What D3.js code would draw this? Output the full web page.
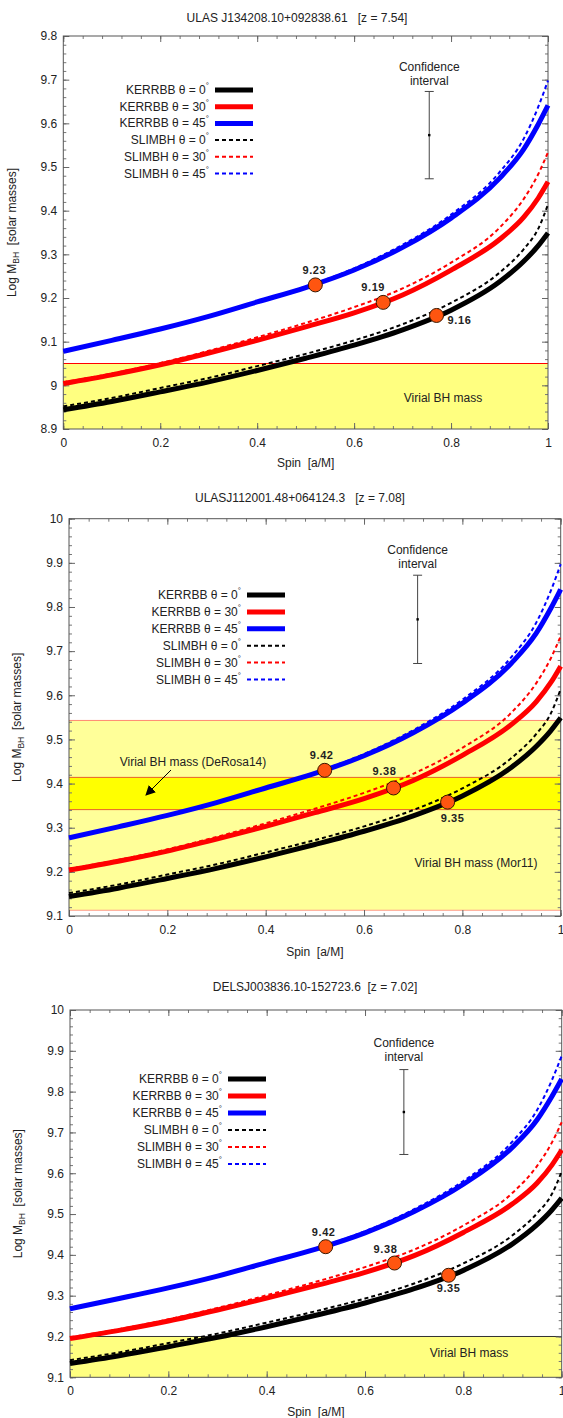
<!DOCTYPE html>
<html>
<head>
<meta charset="utf-8">
<script src="https://cdn.jsdelivr.net/npm/d3@7"></script>
<style>
  body { margin: 0; background: #fff; }
  text { font-family: "Liberation Sans", Arial, sans-serif; fill: #222; }
</style>
</head>
<body>
<div id="chart"></div>
<script>
// spin grid shared by every curve
var spins = [0, 0.1, 0.2, 0.3, 0.4, 0.5, 0.6, 0.7, 0.8, 0.9, 0.95, 0.98, 1];

var seriesNames = ['KERRBB \u03b8 = 0', 'KERRBB \u03b8 = 30', 'KERRBB \u03b8 = 45',
                   'SLIMBH \u03b8 = 0', 'SLIMBH \u03b8 = 30', 'SLIMBH \u03b8 = 45'];

// ULAS J134208.10+092838.61
var j1342_k0  = [8.944, 8.963, 8.985, 9.008, 9.034, 9.062, 9.092, 9.127, 9.172, 9.237, 9.284, 9.320, 9.349];
var j1342_k30 = [9.004, 9.024, 9.047, 9.074, 9.103, 9.134, 9.166, 9.207, 9.264, 9.334, 9.385, 9.429, 9.466];
var j1342_k45 = [9.078, 9.103, 9.129, 9.158, 9.191, 9.224, 9.264, 9.316, 9.383, 9.474, 9.541, 9.598, 9.641];
var j1342_s0  = [8.952, 8.971, 8.994, 9.017, 9.044, 9.072, 9.103, 9.140, 9.189, 9.258, 9.312, 9.359, 9.414];
var j1342_s30 = [9.007, 9.027, 9.051, 9.079, 9.110, 9.143, 9.179, 9.222, 9.281, 9.361, 9.427, 9.484, 9.534];
var j1342_s45 = [9.078, 9.103, 9.129, 9.159, 9.192, 9.226, 9.268, 9.322, 9.391, 9.488, 9.565, 9.638, 9.698];

// ULASJ112001.48+064124.3
var j1120_k0  = [9.144, 9.163, 9.185, 9.208, 9.234, 9.262, 9.292, 9.327, 9.372, 9.437, 9.484, 9.520, 9.549];
var j1120_k30 = [9.204, 9.224, 9.247, 9.274, 9.303, 9.334, 9.366, 9.407, 9.464, 9.534, 9.585, 9.629, 9.666];
var j1120_k45 = [9.277, 9.302, 9.328, 9.357, 9.390, 9.423, 9.463, 9.515, 9.582, 9.673, 9.740, 9.797, 9.840];
var j1120_s0  = [9.152, 9.171, 9.194, 9.217, 9.244, 9.272, 9.303, 9.340, 9.389, 9.458, 9.512, 9.559, 9.614];
var j1120_s30 = [9.207, 9.227, 9.251, 9.279, 9.310, 9.343, 9.379, 9.422, 9.481, 9.561, 9.627, 9.684, 9.734];
var j1120_s45 = [9.277, 9.302, 9.328, 9.358, 9.391, 9.425, 9.467, 9.521, 9.590, 9.687, 9.764, 9.837, 9.897];

// DELSJ003836.10-152723.6
var j0038_k0  = [9.134, 9.153, 9.175, 9.198, 9.224, 9.252, 9.282, 9.317, 9.362, 9.427, 9.474, 9.510, 9.539];
var j0038_k30 = [9.195, 9.215, 9.238, 9.265, 9.294, 9.325, 9.357, 9.398, 9.455, 9.525, 9.576, 9.620, 9.657];
var j0038_k45 = [9.268, 9.293, 9.319, 9.348, 9.381, 9.414, 9.454, 9.506, 9.573, 9.664, 9.731, 9.788, 9.831];
var j0038_s0  = [9.142, 9.161, 9.184, 9.207, 9.234, 9.262, 9.293, 9.330, 9.379, 9.448, 9.502, 9.549, 9.604];
var j0038_s30 = [9.198, 9.218, 9.242, 9.270, 9.301, 9.334, 9.370, 9.413, 9.472, 9.552, 9.618, 9.675, 9.725];
var j0038_s45 = [9.268, 9.293, 9.319, 9.349, 9.382, 9.416, 9.458, 9.512, 9.581, 9.678, 9.755, 9.828, 9.888];

// best-fit points (spin, mass) and their labels
var markerSpins = [0.52, 0.66, 0.77];
var j1342_marks = [9.23, 9.19, 9.16];
var j1342_markLabels = ['9.23', '9.19', '9.16'];
var j1120_marks = [9.43, 9.39, 9.358];
var j1120_markLabels = ['9.42', '9.38', '9.35'];
var j0038_marks = [9.42, 9.38, 9.35];
var j0038_markLabels = ['9.42', '9.38', '9.35'];

// virial mass bands [low, high]
var j1342_virial = [8.9, 9.05];
var j1120_mor11 = [9.113, 9.543];
var j1120_derosa = [9.341, 9.414];
var j0038_virial = [9.1, 9.2];

// confidence interval bars: [spin, centre, half width]
var j1342_conf = [0.755, 9.573, 0.1];
var j1120_conf = [0.709, 9.772, 0.1];
var j0038_conf = [0.679, 9.750, 0.104];

var colors = ['#000000', '#ff0000', '#0000ff', '#000000', '#ff0000', '#0000ff'];

var svg = d3.select('#chart').append('svg')
  .attr('width', 563).attr('height', 1418);

var line = d3.line().curve(d3.curveMonotoneX);

var panels = [
  { title: 'ULAS J134208.10+092838.61   [z = 7.54]', titleX: 297, titleY: 22,
    left: 63.3, right: 548, top: 36, bottom: 429, yDomain: [8.9, 9.8], yLabelX: 16,
    series: [j1342_k0, j1342_k30, j1342_k45, j1342_s0, j1342_s30, j1342_s45],
    marks: j1342_marks, markLabels: j1342_markLabels,
    labelOff: [[-1, -15], [-10, -15.5], [23, 5]],
    conf: j1342_conf, confTextY: [71, 85],
    legX: 215, legY: 90, legStep: 16.7,
    xLabelY: 467 },
  { title: 'ULASJ112001.48+064124.3   [z = 7.08]', titleX: 300, titleY: 502,
    left: 69, right: 560.7, top: 518.7, bottom: 916, yDomain: [9.1, 10], yLabelX: 21,
    series: [j1120_k0, j1120_k30, j1120_k45, j1120_s0, j1120_s30, j1120_s45],
    marks: j1120_marks, markLabels: j1120_markLabels,
    labelOff: [[-3, -15], [-9, -16.5], [5, 16]],
    conf: j1120_conf, confTextY: [554, 568],
    legX: 247, legY: 595, legStep: 16.9,
    xLabelY: 956 },
  { title: 'DELSJ003836.10-152723.6  [z = 7.02]', titleX: 315, titleY: 991,
    left: 70, right: 561.7, top: 1010, bottom: 1377.3, yDomain: [9.1, 10], yLabelX: 22,
    series: [j0038_k0, j0038_k30, j0038_k45, j0038_s0, j0038_s30, j0038_s45],
    marks: j0038_marks, markLabels: j0038_markLabels,
    labelOff: [[-2, -15], [-9, -14], [0, 13]],
    conf: j0038_conf, confTextY: [1047, 1061],
    legX: 228, legY: 1079, legStep: 17,
    xLabelY: 1416 }
];

function bandRect(g, x, y, band, fill) {
  g.append('rect')
    .attr('x', x(0)).attr('width', x(1) - x(0))
    .attr('y', y(band[1])).attr('height', y(band[0]) - y(band[1]))
    .attr('fill', fill);
}
function hLine(g, x, y, v, col) {
  g.append('line')
    .attr('x1', x(0)).attr('x2', x(1))
    .attr('y1', y(v)).attr('y2', y(v))
    .attr('stroke', col).attr('stroke-width', 1);
}

panels.forEach(function(p, pi) {
  var x = d3.scaleLinear().domain([0, 1]).range([p.left, p.right]);
  var y = d3.scaleLinear().domain(p.yDomain).range([p.bottom, p.top]);
  var g = svg.append('g');

  // bands
  if (pi === 0) {
    bandRect(g, x, y, j1342_virial, '#ffff80');
    hLine(g, x, y, j1342_virial[1], '#ff0000');
    g.append('text').attr('x', 443).attr('y', 402).attr('text-anchor', 'middle')
      .attr('font-size', 12).text('Virial BH mass');
  } else if (pi === 1) {
    bandRect(g, x, y, j1120_mor11, '#ffff99');
    bandRect(g, x, y, j1120_derosa, '#ffff00');
    hLine(g, x, y, j1120_mor11[0], '#ff9a8a');
    hLine(g, x, y, j1120_mor11[1], '#ff8a70');
    hLine(g, x, y, j1120_derosa[0], '#e8602a');
    hLine(g, x, y, j1120_derosa[1], '#e8602a');
    g.append('text').attr('x', 193).attr('y', 766).attr('text-anchor', 'middle')
      .attr('font-size', 12).text('Virial BH mass (DeRosa14)');
    g.append('text').attr('x', 476).attr('y', 867).attr('text-anchor', 'middle')
      .attr('font-size', 12).text('Virial BH mass (Mor11)');
    svg.append('defs').append('marker').attr('id', 'arr')
      .attr('viewBox', '0 0 10 10').attr('refX', 9).attr('refY', 5)
      .attr('markerWidth', 10).attr('markerHeight', 10).attr('orient', 'auto')
      .attr('markerUnits', 'userSpaceOnUse')
      .append('path').attr('d', 'M0,0 L10,5 L0,10 Z').attr('fill', '#000');
    g.append('line').attr('x1', 171).attr('y1', 770).attr('x2', 146).attr('y2', 795)
      .attr('stroke', '#000').attr('stroke-width', 1).attr('marker-end', 'url(#arr)');
  } else {
    bandRect(g, x, y, j0038_virial, '#ffff80');
    hLine(g, x, y, j0038_virial[1], '#333');
    g.append('text').attr('x', 469).attr('y', 1357).attr('text-anchor', 'middle')
      .attr('font-size', 12).text('Virial BH mass');
  }

  // minor ticks
  var xMinor = d3.range(0, 1.0001, 0.04);
  var yMinor = d3.range(p.yDomain[0], p.yDomain[1] + 0.0001, 0.02);
  [[d3.axisBottom(x), p.bottom, 0], [d3.axisTop(x), p.top, 0]].forEach(function(a) {
    g.append('g').attr('transform', 'translate(0,' + a[1] + ')')
      .call(a[0].tickValues(xMinor).tickSize(-3).tickFormat(''))
      .call(function(s) { s.select('.domain').remove(); s.selectAll('line').attr('stroke', '#777'); });
  });
  [[d3.axisLeft(y), p.left], [d3.axisRight(y), p.right]].forEach(function(a) {
    g.append('g').attr('transform', 'translate(' + a[1] + ',0)')
      .call(a[0].tickValues(yMinor).tickSize(-3).tickFormat(''))
      .call(function(s) { s.select('.domain').remove(); s.selectAll('line').attr('stroke', '#777'); });
  });

  // major ticks + labels
  var fmt = d3.format('~g');
  g.append('g').attr('transform', 'translate(0,' + p.bottom + ')')
    .call(d3.axisBottom(x).ticks(5).tickSize(-6).tickPadding(9).tickFormat(fmt))
    .call(function(s) {
      s.select('.domain').remove();
      s.selectAll('line').attr('stroke', '#666');
      s.selectAll('text').attr('font-size', 12).attr('font-family', '"Liberation Sans", Arial, sans-serif').attr('fill', '#222');
    });
  g.append('g').attr('transform', 'translate(0,' + p.top + ')')
    .call(d3.axisTop(x).ticks(5).tickSize(-6).tickFormat(''))
    .call(function(s) { s.select('.domain').remove(); s.selectAll('line').attr('stroke', '#666'); });
  g.append('g').attr('transform', 'translate(' + p.left + ',0)')
    .call(d3.axisLeft(y).ticks(9).tickSize(-6).tickPadding(6).tickFormat(fmt))
    .call(function(s) {
      s.select('.domain').remove();
      s.selectAll('line').attr('stroke', '#666');
      s.selectAll('text').attr('font-size', 12).attr('font-family', '"Liberation Sans", Arial, sans-serif').attr('fill', '#222');
    });
  g.append('g').attr('transform', 'translate(' + p.right + ',0)')
    .call(d3.axisRight(y).ticks(9).tickSize(-6).tickFormat(''))
    .call(function(s) { s.select('.domain').remove(); s.selectAll('line').attr('stroke', '#666'); });

  // frame
  g.append('rect').attr('x', p.left).attr('y', p.top)
    .attr('width', p.right - p.left).attr('height', p.bottom - p.top)
    .attr('fill', 'none').attr('stroke', '#555').attr('stroke-width', 1);

  // curves: solid KERRBB first, dashed SLIMBH on top
  p.series.forEach(function(vals, i) {
    var pts = spins.map(function(s, k) { return [x(s), y(vals[k])]; });
    g.append('path').attr('d', line(pts)).attr('fill', 'none')
      .attr('stroke', colors[i])
      .attr('stroke-width', i < 3 ? 5 : 2)
      .attr('stroke-dasharray', i < 3 ? null : '4,3');
  });

  // confidence interval
  var cx = x(p.conf[0]);
  var ct = y(p.conf[1] + p.conf[2]), cb = y(p.conf[1] - p.conf[2]);
  g.append('line').attr('x1', cx).attr('x2', cx).attr('y1', ct).attr('y2', cb)
    .attr('stroke', '#444').attr('stroke-width', 1);
  [ct, cb].forEach(function(yy) {
    g.append('line').attr('x1', cx - 4.5).attr('x2', cx + 4.5).attr('y1', yy).attr('y2', yy)
      .attr('stroke', '#444').attr('stroke-width', 1);
  });
  g.append('rect').attr('x', cx - 1.2).attr('y', y(p.conf[1]) - 1.2)
    .attr('width', 2.4).attr('height', 2.4).attr('fill', '#000');
  g.append('text').attr('x', cx).attr('y', p.confTextY[0]).attr('text-anchor', 'middle')
    .attr('font-size', 12).text('Confidence');
  g.append('text').attr('x', cx).attr('y', p.confTextY[1]).attr('text-anchor', 'middle')
    .attr('font-size', 12).text('interval');

  // markers
  markerSpins.forEach(function(s, i) {
    var mx = x(s), my = y(p.marks[i]);
    g.append('circle').attr('cx', mx).attr('cy', my).attr('r', 7)
      .attr('fill', '#ff5510').attr('stroke', '#3a1800').attr('stroke-width', 1);
    g.append('text').attr('x', mx + p.labelOff[i][0]).attr('y', my + p.labelOff[i][1])
      .attr('text-anchor', 'middle').attr('dominant-baseline', 'central')
      .attr('font-size', 11).attr('font-weight', 'bold').attr('letter-spacing', 0.6)
      .text(p.markLabels[i]);
  });

  // legend
  seriesNames.forEach(function(name, i) {
    var ly = p.legY + i * p.legStep;
    var t = g.append('text').attr('x', p.legX - 6).attr('y', ly + 4)
      .attr('text-anchor', 'end').attr('font-size', 12);
    t.append('tspan').text(name);
    t.append('tspan').attr('dy', -6).attr('font-size', 8).text('\u00b0');
    g.append('line').attr('x1', p.legX).attr('x2', p.legX + 38)
      .attr('y1', ly).attr('y2', ly)
      .attr('stroke', colors[i])
      .attr('stroke-width', i < 3 ? 5 : 2)
      .attr('stroke-dasharray', i < 3 ? null : '4,3');
  });

  // titles and axis labels
  g.append('text').attr('x', p.titleX).attr('y', p.titleY).attr('text-anchor', 'middle')
    .attr('font-size', 12).style('white-space', 'pre').text(p.title);
  g.append('text').attr('x', (p.left + p.right) / 2).attr('y', p.xLabelY)
    .attr('text-anchor', 'middle').attr('font-size', 12).style('white-space', 'pre')
    .text('Spin  [a/M]');
  var yc = (p.top + p.bottom) / 2;
  var yl = g.append('text').attr('transform', 'translate(' + p.yLabelX + ',' + yc + ') rotate(-90)')
    .attr('text-anchor', 'middle').attr('font-size', 12).style('white-space', 'pre');
  yl.append('tspan').text('Log M');
  yl.append('tspan').attr('dy', 3).attr('font-size', 8.5).text('BH');
  yl.append('tspan').attr('dy', -3).text('  [solar masses]');
});
</script>
</body>
</html>
